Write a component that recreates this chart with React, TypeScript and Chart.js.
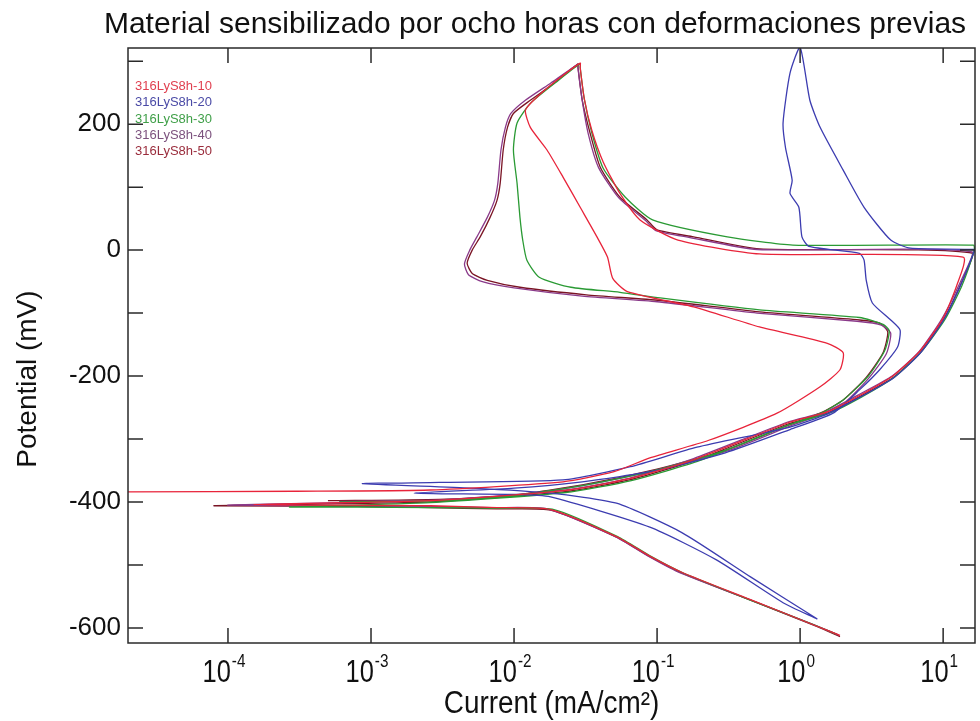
import React, { useEffect, useRef } from "react";
import { Chart, registerables } from "chart.js";

Chart.register(...registerables);

// ---- text ----
const TITLE = "Material sensibilizado por ocho horas con deformaciones previas";
const X_TITLE = "Current (mA/cm²)";
const Y_TITLE = "Potential (mV)";

// ---- series ----
const SERIES_LABELS = ["316LyS8h-10", "316LyS8h-20", "316LyS8h-30", "316LyS8h-40", "316LyS8h-50"];
const SERIES_COLORS = ["#e8243a", "#3c3cb0", "#2a9a34", "#8a3a8a", "#7a1424"];
const LEGEND_COLORS = ["#e04050", "#4a4aa6", "#3f9f48", "#7c527e", "#9a2c3c"];

// current (mA/cm2) / potential (mV)
const CUR_10 = [1.9, 1.3, 0.45, 0.15, 0.089, 0.052, 0.018, 0.0076, 0.0026, 0.00015, 0.0026, 0.022, 0.064, 0.19, 0.85, 1.55, 2.6, 4.5, 6.9, 10, 12.5, 13.8, 0.52, 0.14, 0.076, 0.055, 0.042, 0.035, 0.031, 0.029, 0.029, 0.02, 0.014, 0.012, 0.013, 0.017, 0.022, 0.029, 0.038, 0.045, 0.049, 0.062, 0.18, 0.52, 1.55, 2.0, 1.9, 1.38, 0.69, 0.23, 0.089, 0.05, 0.022, 0.0026, 0.0003, 0.00002];
const POT_10 = [-612, -597, -555, -512, -486, -455, -412, -409, -406, -404, -398, -382, -363, -331, -273, -257, -231, -199, -160, -108, -55, -11, -6, 16, 48, 90, 140, 190, 240, 290, 297, 270, 240, 222, 195, 159, 116, 68, 21, -11, -45, -66, -90, -122, -148, -163, -190, -217, -259, -302, -330, -352, -368, -381, -383, -384];

const CUR_20 = [1.32, 0.45, 0.15, 0.052, 0.018, 0.005, 0.00087, 0.003, 0.022, 0.065, 0.19, 0.85, 1.55, 2.6, 4.5, 6.9, 10, 13, 16.3, 16.5, 5.9, 4.3, 2.8, 2.0, 1.38, 1.17, 1.0, 0.85, 0.76, 0.79, 0.88, 0.85, 0.98, 1.03, 1.15, 2.6, 2.8, 2.9, 3.2, 4.3, 5.0, 4.8, 3.6, 2.6, 1.7, 0.85, 0.3, 0.1, 0.03, 0.01, 0.002, 0.01, 0.018, 0.089, 0.26, 0.76, 1.32];
const POT_20 = [-586, -519, -449, -402, -386, -378, -371, -369, -365, -344, -313, -281, -260, -234, -203, -164, -112, -60, -5, 1, 3, 16, 68, 127, 195, 238, 322, 281, 202, 163, 111, 90, 68, 21, 6, -5, -16, -48, -84, -111, -127, -154, -190, -222, -259, -285, -322, -350, -368, -378, -386, -388, -392, -440, -492, -560, -586];

const CUR_30 = [1.8, 1.25, 0.44, 0.15, 0.09, 0.053, 0.019, 0.008, 0.0026, 0.0008, 0.00027, 0.0026, 0.023, 0.066, 0.2, 0.87, 1.6, 2.7, 4.6, 7.0, 10.3, 13.5, 16.5, 16.3, 0.89, 0.31, 0.093, 0.06, 0.042, 0.035, 0.031, 0.029, 0.029, 0.02, 0.013, 0.0105, 0.0099, 0.0105, 0.011, 0.0115, 0.0123, 0.015, 0.025, 0.055, 0.105, 0.52, 2.6, 3.8, 4.2, 3.9, 3.0, 2.0, 1.4, 0.85, 0.3, 0.1, 0.03, 0.01, 0.003, 0.0006];
const POT_30 = [-610, -595, -555, -512, -486, -455, -412, -410, -409, -408, -408, -401, -385, -366, -334, -276, -259, -233, -201, -162, -110, -57, 0, 8, 8, 21, 48, 84, 130, 186, 240, 290, 296, 268, 233, 202, 159, 106, 52, 16, -16, -43, -59, -67, -76, -95, -107, -118, -128, -160, -200, -238, -259, -277, -318, -349, -374, -390, -398, -400];

const CUR_40 = [1.85, 1.28, 0.43, 0.14, 0.085, 0.05, 0.017, 0.007, 0.0024, 0.0007, 0.0001, 0.0024, 0.021, 0.062, 0.18, 0.82, 1.5, 2.5, 4.4, 6.8, 9.8, 12.8, 16.0, 0.5, 0.17, 0.098, 0.083, 0.054, 0.039, 0.033, 0.03, 0.028, 0.028, 0.018, 0.012, 0.0095, 0.0087, 0.0081, 0.0077, 0.0073, 0.0065, 0.0055, 0.0049, 0.0045, 0.0048, 0.006, 0.01, 0.03, 0.1, 0.5, 2.5, 3.7, 4.3, 4.0, 3.0, 2.1, 1.45, 0.88, 0.31, 0.1, 0.03, 0.01, 0.003, 0.0006];
const POT_40 = [-611, -596, -554, -511, -485, -454, -411, -409, -407, -406, -405, -398, -382, -363, -331, -273, -257, -231, -200, -161, -109, -57, -3, 1, 20, 31, 47, 83, 131, 185, 237, 289, 295, 265, 238, 217, 195, 159, 106, 79, 52, 21, 0, -22, -39, -50, -60, -73, -82, -100, -113, -119, -132, -165, -204, -240, -260, -278, -319, -349, -374, -390, -397, -399];

const CUR_50 = [1.9, 1.32, 0.45, 0.15, 0.089, 0.052, 0.018, 0.0076, 0.0026, 0.0008, 0.00008, 0.0026, 0.022, 0.064, 0.19, 0.85, 1.55, 2.6, 4.5, 6.9, 10, 13, 16.2, 0.52, 0.18, 0.1, 0.085, 0.055, 0.04, 0.034, 0.03, 0.028, 0.028, 0.019, 0.013, 0.0099, 0.009, 0.0084, 0.008, 0.0076, 0.0068, 0.0058, 0.0051, 0.0047, 0.0051, 0.0065, 0.011, 0.032, 0.105, 0.52, 2.6, 3.6, 4.1, 3.8, 2.9, 2.0, 1.38, 0.85, 0.3, 0.1, 0.03, 0.01, 0.003, 0.0005];
const POT_50 = [-614, -598, -556, -513, -487, -456, -413, -411, -409, -407, -406, -400, -384, -365, -333, -275, -259, -233, -202, -163, -111, -59, -5, 2, 21, 32, 48, 84, 132, 186, 238, 290, 296, 265, 238, 217, 195, 159, 106, 79, 52, 21, 0, -21, -37, -48, -59, -71, -80, -98, -111, -116, -130, -163, -202, -238, -259, -277, -318, -348, -373, -389, -396, -398];

const SERIES_CUR = [CUR_10, CUR_20, CUR_30, CUR_40, CUR_50];
const SERIES_POT = [POT_10, POT_20, POT_30, POT_40, POT_50];

// ---- axes ----
const X_MIN = 2.0e-5;
const X_MAX = 16.7;
const Y_MIN = -624;
const Y_MAX = 321;
const X_DECADES = [1e-4, 1e-3, 1e-2, 1e-1, 1, 10];
const X_EXPONENTS = ["-4", "-3", "-2", "-1", "0", "1"];
const Y_TICKS = [-600, -500, -400, -300, -200, -100, 0, 100, 200, 300];
const Y_LABEL_STEP = 200;

const SANS = '"Liberation Sans", Arial, sans-serif';

// condensed text: regular face squeezed horizontally
function squeezedText(ctx: any, text: string, x: number, y: number, font: string, sx: number, align: string) {
  ctx.save();
  ctx.font = font;
  const w = ctx.measureText(text).width * sx;
  let left = x;
  if (align === "center") left = x - w / 2;
  else if (align === "right") left = x - w;
  ctx.translate(left, y);
  ctx.scale(sx, 1);
  ctx.textAlign = "left";
  ctx.textBaseline = "alphabetic";
  ctx.fillText(text, 0, 0);
  ctx.restore();
  return w;
}

const decorPlugin = {
  id: "decor",
  afterDraw(chart: any) {
    const { ctx, chartArea: a, scales } = chart;
    const xs = scales.x;
    const ys = scales.y;
    ctx.save();
    // frame
    ctx.strokeStyle = "#2a2a2a";
    ctx.lineWidth = 1.5;
    ctx.strokeRect(a.left, a.top, a.right - a.left, a.bottom - a.top);
    // inward ticks
    const L = 15;
    ctx.beginPath();
    for (const v of Y_TICKS) {
      const py = ys.getPixelForValue(v);
      ctx.moveTo(a.left, py);
      ctx.lineTo(a.left + L, py);
      ctx.moveTo(a.right, py);
      ctx.lineTo(a.right - L, py);
    }
    for (const d of X_DECADES) {
      const px = xs.getPixelForValue(d);
      ctx.moveTo(px, a.bottom);
      ctx.lineTo(px, a.bottom - L);
      ctx.moveTo(px, a.top);
      ctx.lineTo(px, a.top + L);
    }
    ctx.stroke();

    ctx.fillStyle = "#111";
    // x tick labels 10^n
    const BASE_FONT = `31px ${SANS}`;
    const EXP_FONT = `18px ${SANS}`;
    X_DECADES.forEach((d, i) => {
      const px = xs.getPixelForValue(d);
      ctx.font = BASE_FONT;
      const w1 = ctx.measureText("10").width * 0.82;
      ctx.font = EXP_FONT;
      const w2 = ctx.measureText(X_EXPONENTS[i]).width * 0.85;
      const start = px - 4 - (w1 + w2 + 1) / 2;
      squeezedText(ctx, "10", start, 682, BASE_FONT, 0.82, "left");
      squeezedText(ctx, X_EXPONENTS[i], start + w1 + 1, 667, EXP_FONT, 0.85, "left");
    });

    // x title
    squeezedText(ctx, X_TITLE, (a.left + a.right) / 2, 713, `31px ${SANS}`, 0.9, "center");

    // chart title
    ctx.font = `30px ${SANS}`;
    ctx.textAlign = "center";
    ctx.textBaseline = "alphabetic";
    ctx.fillText(TITLE, 535, 33);

    // y title
    ctx.save();
    ctx.translate(28, 379);
    ctx.rotate(-Math.PI / 2);
    ctx.font = `28px ${SANS}`;
    ctx.textBaseline = "middle";
    ctx.textAlign = "center";
    ctx.fillText(Y_TITLE, 0, 0);
    ctx.restore();

    // legend
    ctx.font = `13px ${SANS}`;
    ctx.textAlign = "left";
    ctx.textBaseline = "alphabetic";
    chart.data.datasets.forEach((ds: any, i: number) => {
      ctx.fillStyle = LEGEND_COLORS[i];
      ctx.fillText(ds.label, a.left + 7, a.top + 42 + i * 16.3);
    });
    ctx.restore();
  },
};

export default function App() {
  const ref = useRef<HTMLCanvasElement | null>(null);
  useEffect(() => {
    if (!ref.current) return;
    const datasets = SERIES_LABELS.map((label, i) => ({
      label,
      data: SERIES_CUR[i].map((c, j) => ({ x: c, y: SERIES_POT[i][j] })),
      borderColor: SERIES_COLORS[i],
      backgroundColor: SERIES_COLORS[i],
      borderWidth: 1.3,
      pointRadius: 0,
      showLine: true,
      tension: 0.2,
      fill: false,
    }));
    const chart = new Chart(ref.current, {
      type: "scatter",
      data: { datasets },
      options: {
        animation: false,
        responsive: false,
        devicePixelRatio: 1,
        layout: { padding: { top: 48, right: 5, left: 0, bottom: 0 } },
        plugins: {
          legend: { display: false },
          title: { display: false },
          tooltip: { enabled: false },
        },
        scales: {
          x: {
            type: "logarithmic",
            min: X_MIN,
            max: X_MAX,
            grid: { display: false, drawTicks: false },
            border: { display: false },
            ticks: { display: false },
            afterBuildTicks: (s: any) => {
              s.ticks = X_DECADES.map((v) => ({ value: v }));
            },
            afterFit: (s: any) => {
              s.height = 78;
            },
          },
          y: {
            type: "linear",
            min: Y_MIN,
            max: Y_MAX,
            grid: { display: false, drawTicks: false },
            border: { display: false },
            ticks: {
              color: "#111",
              padding: 7,
              font: { family: SANS, size: 26 },
              callback: (v: any) => (Number(v) % Y_LABEL_STEP === 0 ? String(v) : ""),
            },
            afterBuildTicks: (s: any) => {
              s.ticks = Y_TICKS.map((v) => ({ value: v }));
            },
            afterFit: (s: any) => {
              s.width = 128;
            },
          },
        },
      } as any,
      plugins: [decorPlugin],
    });
    return () => chart.destroy();
  }, []);
  return (
    <div style={{ position: "absolute", left: 0, top: 0, width: 980, height: 721, background: "#fff" }}>
      <canvas ref={ref} width={980} height={721} style={{ display: "block" }} />
    </div>
  );
}
